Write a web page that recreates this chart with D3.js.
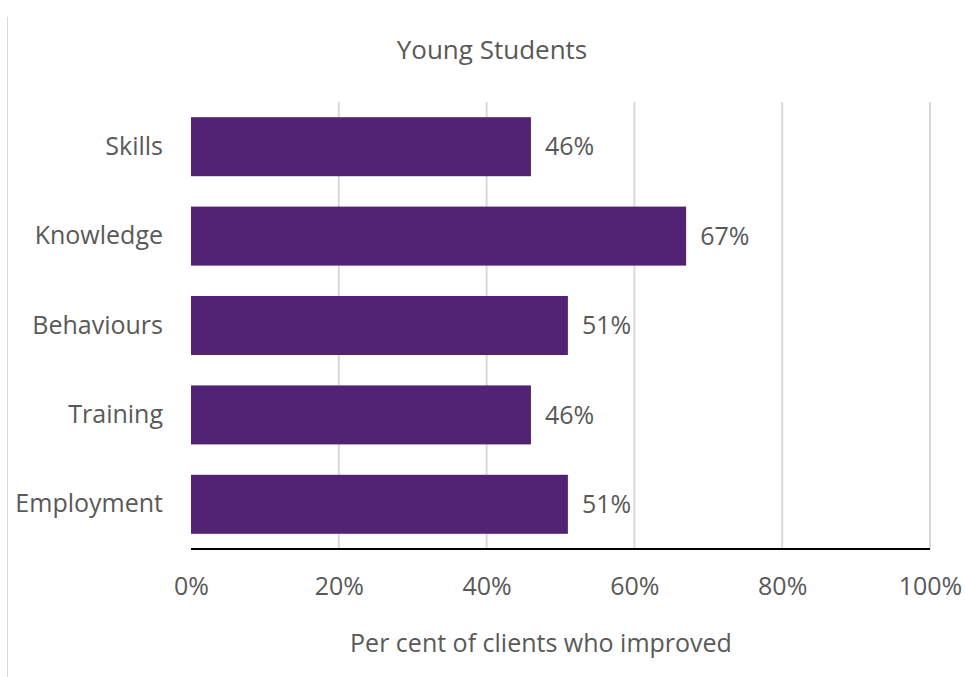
<!DOCTYPE html>
<html>
<head>
<meta charset="utf-8">
<script src="https://cdn.jsdelivr.net/npm/d3@7"></script>
<style>
  html, body { margin: 0; padding: 0; background: #fff; }
  svg { display: block; }
  text { font-family: "Open Sans", Lato, sans-serif; fill: #595959; }
</style>
</head>
<body>
<svg id="chart" width="965" height="677"></svg>
<script>
const categories = ["Skills", "Knowledge", "Behaviours", "Training", "Employment"];
const values = [0.46, 0.67, 0.51, 0.46, 0.51];
const valueLabels = ["46%", "67%", "51%", "46%", "51%"];
const tickValues = [0, 0.2, 0.4, 0.6, 0.8, 1.0];
const tickLabels = ["0%", "20%", "40%", "60%", "80%", "100%"];
const chartTitle = "Young Students";
const xTitle = "Per cent of clients who improved";

(function () {
const svg = d3.select("#chart");
const pLeft = 191, pRight = 930, pTop = 102, pBottom = 549;
const FONT = '"Open Sans", Lato, sans-serif';
const FS = 25;

svg.append("line").attr("x1", 7.5).attr("x2", 7.5).attr("y1", 17).attr("y2", 677)
  .attr("stroke", "#d9d9d9").attr("stroke-width", 1);

const x = d3.scaleLinear().domain([0, 1]).range([pLeft, pRight]);
const y = d3.scaleBand().domain(categories).range([pTop, pBottom]).paddingInner(0.34).paddingOuter(0.17);

svg.append("g").selectAll("line").data(tickValues.slice(1)).join("line")
  .attr("x1", d => x(d)).attr("x2", d => x(d))
  .attr("y1", pTop).attr("y2", pBottom)
  .attr("stroke", "#d9d9d9").attr("stroke-width", 2);

svg.append("g").selectAll("rect").data(values).join("rect")
  .attr("x", x(0)).attr("y", (d, i) => y(categories[i]))
  .attr("width", d => x(d) - x(0)).attr("height", y.bandwidth())
  .attr("fill", "#522375");

svg.append("g").selectAll("text").data(values).join("text")
  .attr("x", d => x(d) + 14).attr("y", (d, i) => y(categories[i]) + y.bandwidth() / 2)
  .attr("dy", "0.35em").attr("font-size", FS)
  .text((d, i) => valueLabels[i]);

svg.append("line").attr("x1", pLeft).attr("x2", pRight).attr("y1", pBottom).attr("y2", pBottom)
  .attr("stroke", "#000").attr("stroke-width", 2);

const yAxis = svg.append("g").attr("transform", `translate(${pLeft},0)`)
  .call(d3.axisLeft(y).tickSize(0).tickPadding(28));
yAxis.select(".domain").remove();
yAxis.selectAll("text").attr("font-size", FS).style("font-family", FONT).attr("fill", "#595959");

const xAxis = svg.append("g").attr("transform", `translate(0,${pBottom})`)
  .call(d3.axisBottom(x).tickValues(tickValues).tickFormat((d, i) => tickLabels[i]).tickSize(0).tickPadding(28));
xAxis.select(".domain").remove();
xAxis.selectAll("text").attr("font-size", FS).style("font-family", FONT).attr("fill", "#595959");

svg.append("text").attr("x", 492).attr("y", 59).attr("text-anchor", "middle")
  .attr("font-size", 26).text(chartTitle);

svg.append("text").attr("x", 541).attr("y", 652).attr("text-anchor", "middle")
  .attr("font-size", FS).text(xTitle);
})();
</script>
</body>
</html>
